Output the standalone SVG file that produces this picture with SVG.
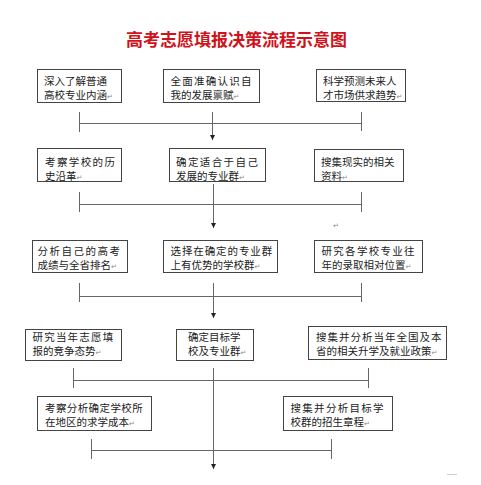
<svg xmlns="http://www.w3.org/2000/svg" width="481" height="485" viewBox="0 0 481 485">
<style>
.bg{fill:#fff}
.box{fill:#fff;stroke:#444;stroke-width:1}
.t{font-family:"Noto Sans CJK SC","Noto Sans",sans-serif;font-size:10.5px;fill:#222}
.r{font-family:"DejaVu Sans",sans-serif;font-size:7px;fill:#888}
.title{font-family:"Noto Sans CJK SC",sans-serif;font-size:17px;font-weight:bold;fill:#d0121b}
.ln{stroke:#666;stroke-width:1;fill:none}
</style>
<defs>
<marker id="ah" viewBox="0 0 10 10" refX="10" refY="5" markerWidth="5" markerHeight="5" orient="auto" markerUnits="userSpaceOnUse">
<path d="M0,0 L10,5 L0,10 z" fill="#222"/>
</marker>
</defs>
<rect class="bg" x="0" y="0" width="481" height="485"/>
<text class="title" x="236.5" y="45.5" text-anchor="middle">高考志愿填报决策流程示意图</text>

<g id="n1"><rect class="box" x="37.5" y="69.5" width="84" height="33"/>
<text class="t" x="44" y="85">深入了解普通</text>
<text class="t" x="44" y="99">高校专业内涵<tspan class="r">↵</tspan></text></g>
<g id="n2"><rect class="box" x="163.5" y="69.5" width="96" height="33"/>
<text class="t" x="170.5" y="85" letter-spacing="1.25">全面准确认识自</text>
<text class="t" x="170.5" y="99">我的发展禀赋<tspan class="r">↵</tspan></text></g>
<g id="n3"><rect class="box" x="316.5" y="69.5" width="89" height="32"/>
<text class="t" x="323" y="85">科学预测未来人</text>
<text class="t" x="323" y="99">才市场供求趋势<tspan class="r">↵</tspan></text></g>

<g id="n4"><rect class="box" x="37.5" y="148.5" width="84" height="33"/>
<text class="t" x="45" y="166" letter-spacing="1.4">考察学校的历</text>
<text class="t" x="45" y="180">史沿革<tspan class="r">↵</tspan></text></g>
<g id="n5"><rect class="box" x="169.5" y="148.5" width="96" height="33"/>
<text class="t" x="176" y="166" letter-spacing="1.4">确定适合于自己</text>
<text class="t" x="176" y="180">发展的专业群<tspan class="r">↵</tspan></text></g>
<g id="n6"><rect class="box" x="314.5" y="149.5" width="89" height="32"/>
<text class="t" x="321" y="166">搜集现实的相关</text>
<text class="t" x="321" y="180">资料<tspan class="r">↵</tspan></text></g>

<g id="n7"><rect class="box" x="32.5" y="240.5" width="95" height="32"/>
<text class="t" x="37.5" y="255" letter-spacing="1.5">分析自己的高考</text>
<text class="t" x="37.5" y="269">成绩与全省排名<tspan class="r">↵</tspan></text></g>
<g id="n8"><rect class="box" x="163.5" y="240.5" width="114" height="32"/>
<text class="t" x="170.5" y="255" letter-spacing="0.9">选择在确定的专业群</text>
<text class="t" x="170.5" y="269">上有优势的学校群<tspan class="r">↵</tspan></text></g>
<g id="n9"><rect class="box" x="314.5" y="240.5" width="108" height="32"/>
<text class="t" x="321.5" y="255" letter-spacing="1.3">研究各学校专业往</text>
<text class="t" x="321.5" y="269">年的录取相对位置<tspan class="r">↵</tspan></text></g>
<text class="r" x="333" y="228">↵</text>

<g id="n10"><rect class="box" x="25.5" y="329.5" width="96" height="31"/>
<text class="t" x="32.5" y="341" letter-spacing="1.2">研究当年志愿填</text>
<text class="t" x="32.5" y="355">报的竞争态势<tspan class="r">↵</tspan></text></g>
<g id="n11"><rect class="box" x="176.5" y="329.5" width="77" height="31"/>
<text class="t" x="188" y="341">确定目标学</text>
<text class="t" x="188" y="355">校及专业群<tspan class="r">↵</tspan></text></g>
<g id="n12"><rect class="box" x="308.5" y="326.5" width="138" height="33"/>
<text class="t" x="316" y="341" letter-spacing="1.0">搜集并分析当年全国及本</text>
<text class="t" x="316" y="355">省的相关升学及就业政策<tspan class="r">↵</tspan></text></g>

<g id="n13"><rect class="box" x="37.5" y="396.5" width="114" height="34"/>
<text class="t" x="45" y="412" letter-spacing="0.4">考察分析确定学校所</text>
<text class="t" x="45" y="426">在地区的求学成本<tspan class="r">↵</tspan></text></g>
<g id="n14"><rect class="box" x="283.5" y="396.5" width="109" height="34"/>
<text class="t" x="290.5" y="412" letter-spacing="1.3">搜集并分析目标学</text>
<text class="t" x="290.5" y="426">校群的招生章程<tspan class="r">↵</tspan></text></g>

<g id="connectors">
<path class="ln" d="M79.5,112 V132 M79.5,123.5 H361.5 M361.5,112 V131"/>
<path class="ln" d="M212.5,112 V140" marker-end="url(#ah)"/>
<path class="ln" d="M79.5,192 V212 M79.5,204.5 H361.5 M361.5,192 V212"/>
<path class="ln" d="M213.5,184 V228" marker-end="url(#ah)"/>
<path class="ln" d="M79.5,283 V302 M79.5,296.5 H361.5 M361.5,283 V302"/>
<path class="ln" d="M213.5,283 V318" marker-end="url(#ah)"/>
<path class="ln" d="M73.5,368 V388 M73.5,380.5 H368.5 M368.5,368 V388"/>
<path class="ln" d="M213.5,368 V469" marker-end="url(#ah)"/>
<path class="ln" d="M91.5,439 V459 M91.5,450.5 H331.5 M331.5,439 V459"/>
</g>
<path d="M447,474.5 H457" stroke="#ccc" stroke-width="1"/>
</svg>
